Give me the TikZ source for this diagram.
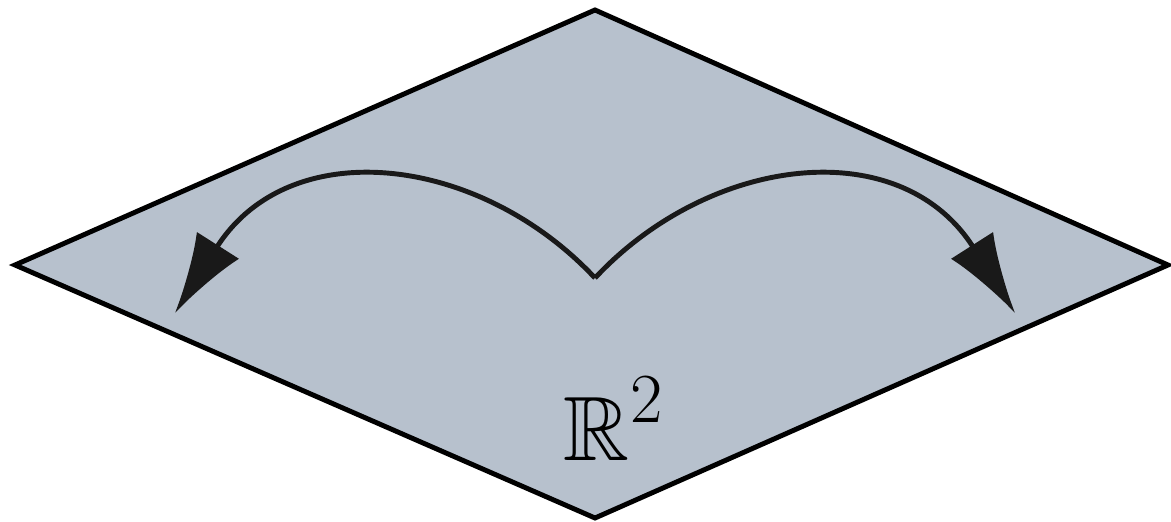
\documentclass[tikz,border=0pt]{standalone}
\usepackage{amsmath}
\usepackage{amssymb}
\usetikzlibrary{arrows.meta,calc}
\definecolor{planegray}{RGB}{183,193,205}

\begin{document}
\begin{tikzpicture}[
    x=0.01cm, y=-0.01cm,
    plane/.style={draw=black, fill=planegray, line width=1.4pt, line join=miter},
    flow/.style={-{Latex[length=8mm,width=5mm]}, line width=1.4pt, color=black!90}
]
\useasboundingbox (0,0) rectangle (1171,522);

% === PLANE ===
\coordinate (top) at (595,10);
\coordinate (left) at (15,265);
\coordinate (bottom) at (595,518);
\coordinate (right) at (1168,265);
\draw[plane] (top) -- (right) -- (bottom) -- (left) -- cycle;

% === ARROWS ===
\coordinate (origin) at (595,278);
\coordinate (leftend) at (175,313);
\coordinate (rightend) at (1015,313);
\draw[flow] (origin) .. controls (480,155) and (290,132) .. (leftend);
\draw[flow] (origin) .. controls (710,155) and (900,132) .. (rightend);

% === LABEL ===
\node[font=\fontsize{26}{30}\selectfont] (space) at (614,418) {$\mathbb{R}^{\raisebox{0.15ex}{\fontsize{20}{24}\selectfont 2}}$};

\end{tikzpicture}
\end{document}
